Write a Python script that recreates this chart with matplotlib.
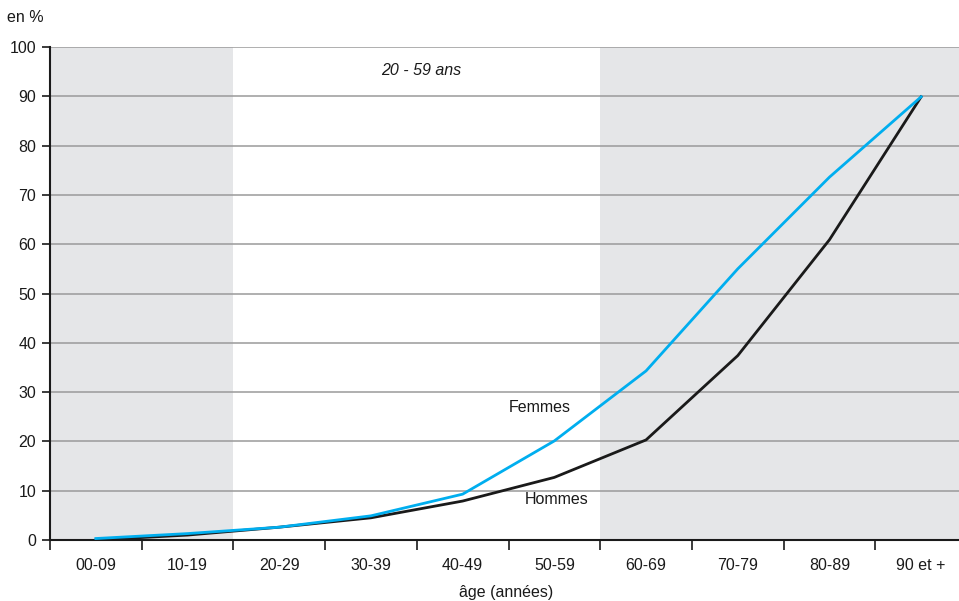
import matplotlib
matplotlib.use("Agg")
import matplotlib.pyplot as plt
from matplotlib import font_manager

names = {f.name for f in font_manager.fontManager.ttflist}
fam = "Liberation Sans Narrow" if "Liberation Sans Narrow" in names else "Liberation Sans"
plt.rcParams['font.family'] = [fam, 'DejaVu Sans']

categories = ["00-09", "10-19", "20-29", "30-39", "40-49", "50-59", "60-69", "70-79", "80-89", "90 et +"]
femmes = [0.3, 1.3, 2.6, 4.9, 9.3, 20.1, 34.3, 55.0, 73.6, 89.9]
hommes = [0.0, 1.0, 2.6, 4.5, 7.9, 12.7, 20.3, 37.4, 60.9, 89.9]
yticks = list(range(0, 101, 10))

fig = plt.figure(figsize=(9.59, 6.01), dpi=100)
ax = fig.add_axes([50/959, 1 - 540/601, 909/959, 493/601])

n = len(categories)
x = list(range(n))

shade = "#e5e6e8"
ax.axvspan(-0.5, 1.5, color=shade, zorder=0, lw=0)
ax.axvspan(5.5, n + 1, color=shade, zorder=0, lw=0)

for t in yticks[1:]:
    ax.axhline(t, color="#9a9a9a", lw=1.1, zorder=1)

ax.plot(x, hommes, color="#1a1a1a", lw=2.0, zorder=3, solid_joinstyle="miter")
ax.plot(x, femmes, color="#00aeef", lw=2.0, zorder=4, solid_joinstyle="miter")

ax.set_yticks(yticks)
ax.set_yticklabels([str(t) for t in yticks], fontsize=11.5, color="#1a1a1a")
ax.set_xticks([i + 0.5 for i in range(-1, n)])
ax.set_xticklabels([])
ax.set_xticks(x, minor=True)
ax.set_xticklabels(categories, minor=True, fontsize=11.5, color="#1a1a1a")
ax.tick_params(axis="x", which="major", length=7, width=1.2, direction="out", color="#1a1a1a")
ax.tick_params(axis="x", which="minor", length=0, pad=13)
ax.tick_params(axis="y", length=6, width=1.2, direction="out", color="#1a1a1a", pad=4)

ax.set_xlim(-0.5, -0.5 + 909/91.7)
ax.set_ylim(0, 100)

for s in ["top", "right"]:
    ax.spines[s].set_visible(False)
ax.spines["left"].set_linewidth(1.5)
ax.spines["bottom"].set_linewidth(1.5)
ax.spines["left"].set_color("#1a1a1a")
ax.spines["bottom"].set_color("#1a1a1a")

ax.text(4.84, 26.8, "Femmes", fontsize=11.5, ha="center", va="center", color="#1a1a1a")
ax.text(5.03, 8.3, "Hommes", fontsize=11.5, ha="center", va="center", color="#1a1a1a")
ax.text(3.55, 95.3, "20 - 59 ans", fontsize=11.5, style="italic", ha="center", va="center", color="#1a1a1a")

fig.text(25/959, 1 - 18/601, "en %", fontsize=11.5, ha="center", va="center", color="#1a1a1a")
fig.text(506/959, 1 - 593/601, "âge (années)", fontsize=11.5, ha="center", va="center", color="#1a1a1a")

fig.savefig("out.png", dpi=100)
